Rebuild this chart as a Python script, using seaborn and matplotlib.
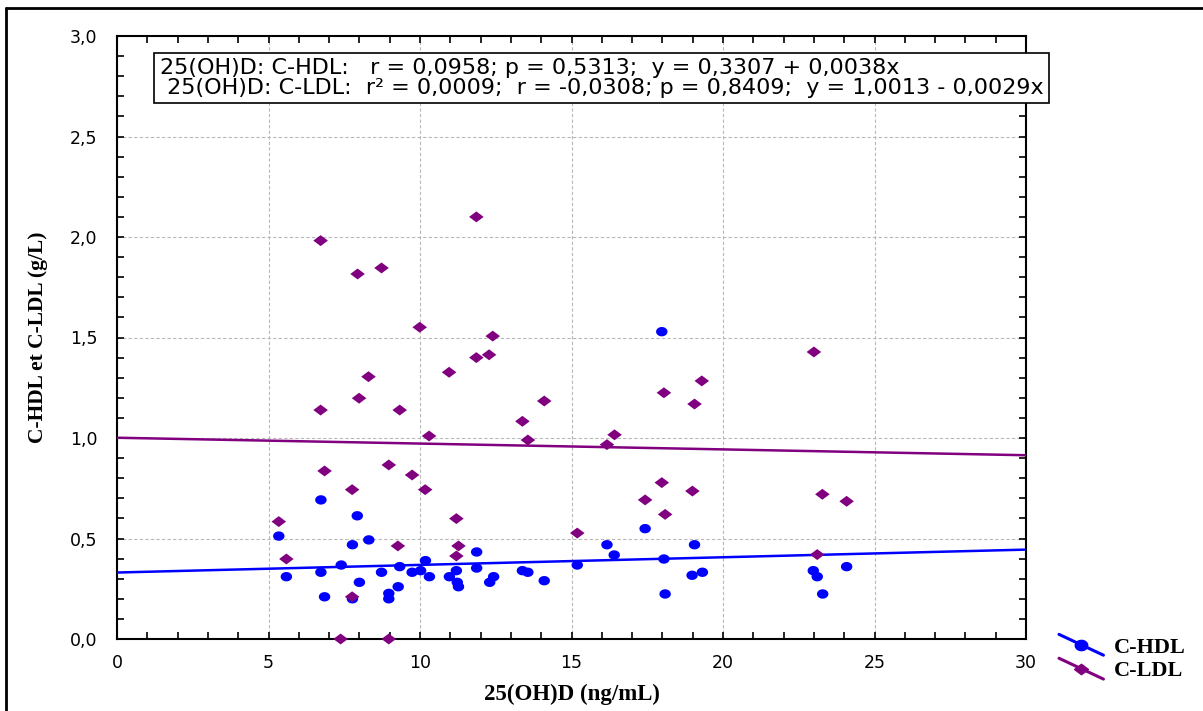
import numpy as np
import pandas as pd
import matplotlib
matplotlib.use("Agg")
import matplotlib.pyplot as plt
import seaborn as sns
from matplotlib.path import Path
from matplotlib.lines import Line2D
from matplotlib.legend_handler import HandlerLine2D
from matplotlib.ticker import MultipleLocator, FuncFormatter

# ---------------- data ----------------
hdl_x = [5.34, 5.59, 6.73, 6.85, 6.73, 7.40, 7.77, 7.93, 8.31, 8.00, 7.77, 8.73,
         8.97, 8.97, 9.28, 9.33, 9.74, 10.02, 10.18, 10.31, 10.97, 11.20, 11.23,
         11.27, 11.87, 11.87, 12.30, 12.43, 13.38, 13.56, 14.10, 15.19, 16.17,
         16.41, 17.43, 17.98, 18.05, 18.09, 19.06, 18.98, 19.32, 22.98, 23.11,
         23.29, 24.08]
hdl_y = [0.512, 0.31, 0.692, 0.21, 0.332, 0.368, 0.469, 0.613, 0.493, 0.282, 0.20,
         0.332, 0.227, 0.20, 0.26, 0.36, 0.332, 0.34, 0.39, 0.31, 0.31, 0.34, 0.282,
         0.26, 0.433, 0.353, 0.282, 0.31, 0.34, 0.332, 0.29, 0.368, 0.469, 0.418,
         0.549, 1.529, 0.398, 0.224, 0.469, 0.317, 0.332, 0.34, 0.31, 0.224, 0.36]

ldl_x = [5.34, 5.59, 6.72, 6.72, 6.85, 7.76, 7.76, 7.38, 7.94, 7.99, 8.30, 8.73,
         8.97, 8.97, 9.33, 9.27, 9.74, 9.99, 10.17, 10.30, 10.96, 11.20, 11.27,
         11.20, 11.86, 11.86, 12.28, 12.40, 13.38, 13.56, 14.10, 15.19, 16.17,
         16.42, 17.43, 18.05, 17.98, 18.09, 19.06, 18.99, 19.30, 23.00, 23.28,
         23.11, 24.08]
ldl_y = [0.584, 0.398, 1.982, 1.139, 0.836, 0.743, 0.21, 0.0, 1.816, 1.198, 1.305,
         1.846, 0.866, 0.0, 1.139, 0.463, 0.816, 1.551, 0.743, 1.01, 1.327, 0.599,
         0.463, 0.413, 2.10, 1.40, 1.414, 1.507, 1.083, 0.99, 1.184, 0.527, 0.967,
         1.016, 0.692, 1.225, 0.778, 0.62, 1.169, 0.736, 1.284, 1.428, 0.72, 0.42,
         0.685]

hdl_intercept, hdl_slope = 0.3307, 0.0038
ldl_intercept, ldl_slope = 1.0013, -0.0029
fit_x = [0, 30]

series_names = ["C-HDL", "C-LDL"]
stats_lines = [
    "25(OH)D: C-HDL:   r = 0,0958; p = 0,5313;  y = 0,3307 + 0,0038x",
    " 25(OH)D: C-LDL:  r\u00b2 = 0,0009;  r = -0,0308; p = 0,8409;  y = 1,0013 - 0,0029x",
]
xlabel = "25(OH)D (ng/mL)"
ylabel = "C-HDL et C-LDL (g/L)"

# ---------------- style ----------------
sns.set_theme(style="white")
plt.rcParams["font.family"] = ["DejaVu Sans"]
plt.rcParams["text.color"] = "black"
plt.rcParams["axes.labelcolor"] = "black"
plt.rcParams["xtick.color"] = "black"
plt.rcParams["ytick.color"] = "black"

HDL_COLOR = "#0000FF"
LDL_COLOR = "#800080"

# stretched markers (wider than tall)
t = np.linspace(0, 2 * np.pi, 40)
ellipse = Path(np.column_stack([np.cos(t), 0.82 * np.sin(t)]), closed=True)
diamond = Path([(-1, 0), (0, 0.75), (1, 0), (0, -0.75), (-1, 0)], closed=True)

fig = plt.figure(figsize=(12.03, 7.11), dpi=100)
ax = fig.add_axes([117 / 1203, 1 - 639 / 711, (1026 - 117) / 1203, (639 - 36) / 711])

df_hdl = pd.DataFrame({"x": hdl_x, "y": hdl_y})
df_ldl = pd.DataFrame({"x": ldl_x, "y": ldl_y})
fit_df = pd.DataFrame({
    "x": fit_x,
    "hdl": [hdl_intercept + hdl_slope * v for v in fit_x],
    "ldl": [ldl_intercept + ldl_slope * v for v in fit_x],
})

sns.lineplot(data=fit_df, x="x", y="ldl", ax=ax, color=LDL_COLOR, lw=1.8, zorder=3)
sns.lineplot(data=fit_df, x="x", y="hdl", ax=ax, color=HDL_COLOR, lw=1.8, zorder=3)
sns.scatterplot(data=df_hdl, x="x", y="y", ax=ax, marker=ellipse, s=68,
                color=HDL_COLOR, edgecolor="none", linewidth=0, zorder=4, clip_on=False)
sns.scatterplot(data=df_ldl, x="x", y="y", ax=ax, marker=diamond, s=110,
                color=LDL_COLOR, edgecolor="none", linewidth=0, zorder=5, clip_on=False)

ax.set_xlim(0, 30)
ax.set_ylim(0, 3.0)
ax.xaxis.set_major_locator(MultipleLocator(5))
ax.xaxis.set_minor_locator(MultipleLocator(1))
ax.yaxis.set_major_locator(MultipleLocator(0.5))
ax.yaxis.set_minor_locator(MultipleLocator(0.1))
ax.yaxis.set_major_formatter(FuncFormatter(lambda v, p: f"{v:.1f}".replace(".", ",")))
ax.xaxis.set_major_formatter(FuncFormatter(lambda v, p: f"{v:.0f}"))
ax.tick_params(which="both", direction="in", top=True, right=True, bottom=True,
               left=True, length=5, width=1.2, color="black", labelsize=12.5,
               labelcolor="black")
ax.tick_params(axis="x", pad=11)
ax.tick_params(axis="y", pad=14)
ax.grid(True, which="major", color="#b8b8b8", linestyle=(0, (3, 2)), linewidth=0.8)
for s in ax.spines.values():
    s.set_color("black")
    s.set_linewidth(1.5)

ax.set_xlabel(xlabel, fontsize=16.5, fontweight="bold", family="Liberation Serif",
              labelpad=8, color="black")
ax.set_ylabel(ylabel, fontsize=15.5, fontweight="bold", family="Liberation Serif",
              labelpad=16, color="black")

# stats box
fig.text(160 / 1203, 1 - 78 / 711, "\n".join(stats_lines), fontsize=16,
         va="center", ha="left", linespacing=0.98, color="black",
         bbox=dict(boxstyle="square,pad=0.25", facecolor="white", edgecolor="black", lw=1.2),
         zorder=10)


# legend with slanted handles
class SlantHandler(HandlerLine2D):
    def create_artists(self, legend, orig_handle, xdescent, ydescent, width,
                       height, fontsize, trans):
        x0, x1 = -xdescent, -xdescent + width
        yc = -ydescent + height / 2
        y0, y1 = yc + 7.5, yc - 7.5
        line = Line2D([x0, x1], [y0, y1], color=orig_handle.get_color(), lw=2.2)
        mark = Line2D([(x0 + x1) / 2], [yc], marker=orig_handle.get_marker(),
                      markersize=orig_handle.get_markersize(),
                      color=orig_handle.get_color(), linestyle="none")
        line.set_transform(trans)
        mark.set_transform(trans)
        return [line, mark]


handles = [Line2D([], [], color=HDL_COLOR, marker=ellipse, markersize=9),
           Line2D([], [], color=LDL_COLOR, marker=diamond, markersize=10)]
leg = fig.legend(handles, series_names, loc="upper left",
                 bbox_to_anchor=(1039 / 1203, 1 - 617 / 711),
                 frameon=False, handler_map={Line2D: SlantHandler()},
                 handlelength=2.0, handletextpad=0.45, labelspacing=0.15,
                 prop=dict(family="Liberation Serif", weight="bold", size=16))
for txt in leg.get_texts():
    txt.set_color("black")

# figure frame (top and left edges)
fig.add_artist(Line2D([6 / 1203, 1], [1 - 8 / 711, 1 - 8 / 711], transform=fig.transFigure,
                      color="black", lw=2))
fig.add_artist(Line2D([6 / 1203, 6 / 1203], [0, 1 - 8 / 711], transform=fig.transFigure,
                      color="black", lw=2))

fig.savefig("out.png", dpi=100)
